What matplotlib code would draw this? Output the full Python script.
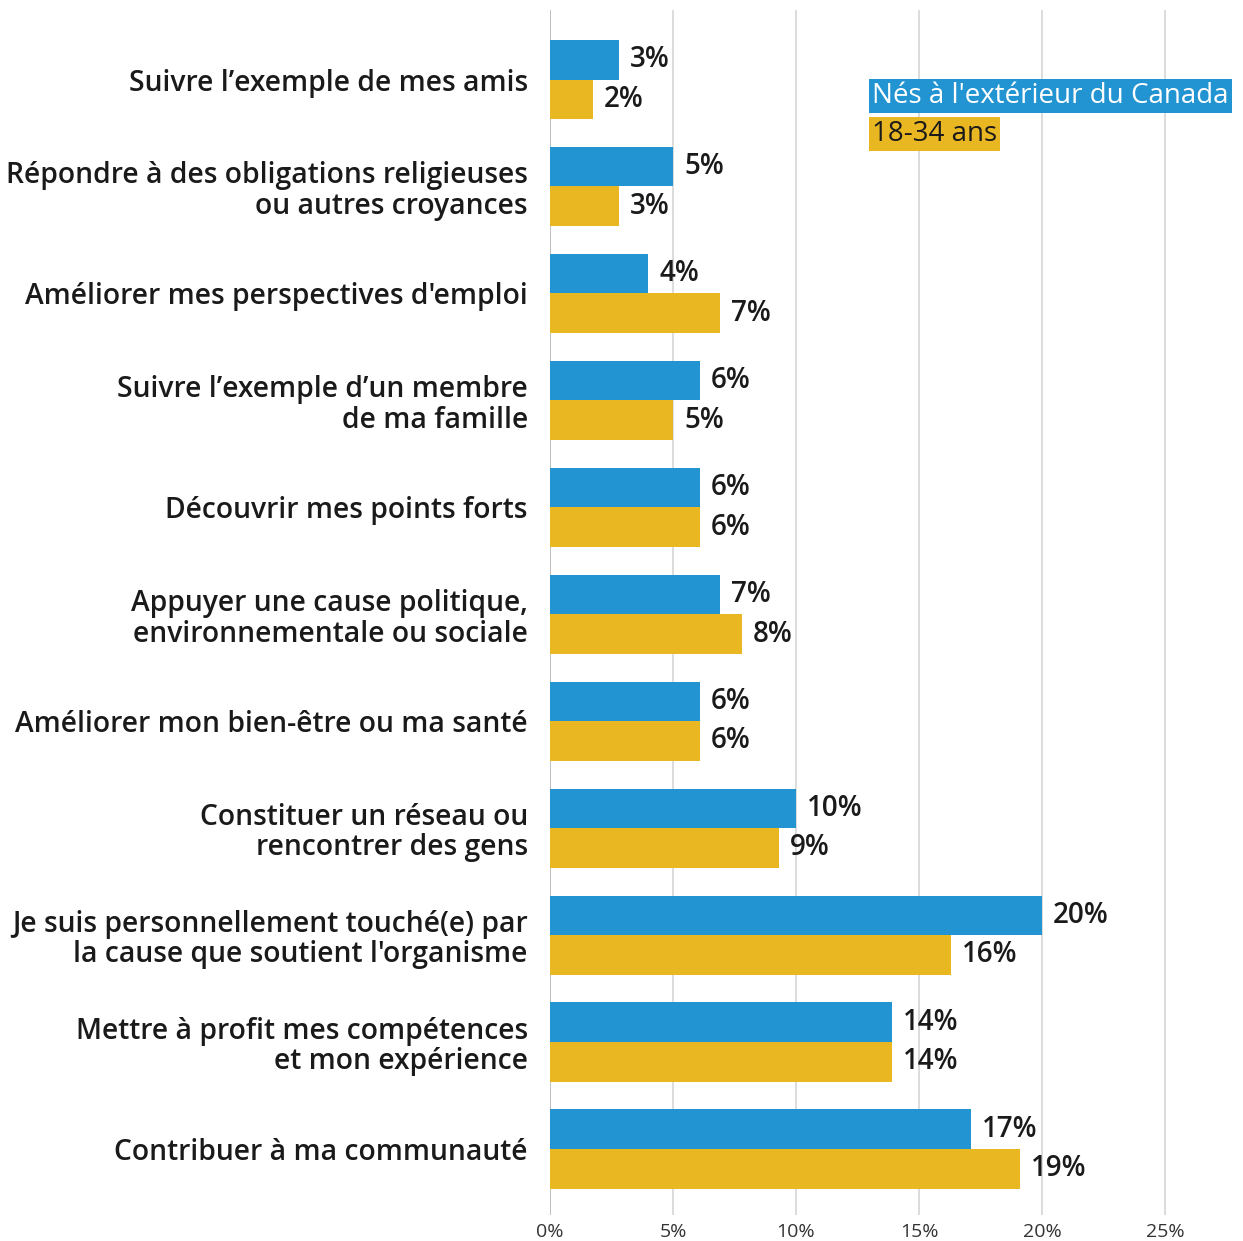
import numpy as np
import matplotlib.pyplot as plt

# categories top to bottom
categories = [
    "Suivre l’exemple de mes amis",
    "Répondre à des obligations religieuses\nou autres croyances",
    "Améliorer mes perspectives d'emploi",
    "Suivre l’exemple d’un membre\nde ma famille",
    "Découvrir mes points forts",
    "Appuyer une cause politique,\nenvironnementale ou sociale",
    "Améliorer mon bien-être ou ma santé",
    "Constituer un réseau ou\nrencontrer des gens",
    "Je suis personnellement touché(e) par\nla cause que soutient l'organisme",
    "Mettre à profit mes compétences\net mon expérience",
    "Contribuer à ma communauté",
]
born_abroad = [2.8, 5.0, 4.0, 6.1, 6.1, 6.9, 6.1, 10.0, 20.0, 13.9, 17.1]
age_18_34 = [1.75, 2.8, 6.9, 5.0, 6.1, 7.8, 6.1, 9.3, 16.3, 13.9, 19.1]
series_names = ["Nés à l'extérieur du Canada", "18-34 ans"]
ticks = [0, 5, 10, 15, 20, 25]

BLUE = "#2394D2"
GOLD = "#E9B722"
INK = "#1a1a1a"
FONT = "Open Sans"

W, H = 1243, 1241
fig = plt.figure(figsize=(W / 100, H / 100), dpi=100)
ax = fig.add_axes([550 / W, (H - 1215) / H, (W - 550) / W, 1205 / H])

y = np.arange(len(categories))
bh = 0.37
ax.barh(y - bh / 2, born_abroad, height=bh, color=BLUE, zorder=3)
ax.barh(y + bh / 2, age_18_34, height=bh, color=GOLD, zorder=3)

for vals, off in [(born_abroad, -bh / 2), (age_18_34, bh / 2)]:
    for yi, v in zip(y, vals):
        ax.annotate(f"{v:.0f}%", (v, yi + off), xytext=(8, 0), textcoords="offset points",
                    va="center", ha="left", fontsize=20, fontweight="semibold",
                    color=INK, family=FONT)

ax.set_xlim(0, (W - 550) / 24.6)
ax.set_ylim(10.617, -0.650)
ax.set_xticks(ticks)
ax.set_xticklabels([f"{t}%" for t in ticks], fontsize=14, color="#333333", family=FONT)
ax.set_yticks(y)
ax.set_yticklabels(categories, fontsize=20.3, fontweight="semibold", color=INK,
                   family=FONT, linespacing=1.08)
ax.tick_params(axis="both", length=0)
ax.tick_params(axis="y", pad=16)
ax.tick_params(axis="x", pad=6)
for s in ax.spines.values():
    s.set_visible(False)
for t in ticks:
    ax.axvline(t, color="#bbbbbb" if t == 0 else "#d9d9d9", lw=1.3, zorder=1)

# legend as colored text boxes
fig.text(872 / W, 1 - 96 / H, series_names[0], color="white", fontsize=20, family=FONT,
         va="center", ha="left",
         bbox=dict(boxstyle="square,pad=0.12", fc=BLUE, ec="none"))
fig.text(872 / W, 1 - 134 / H, series_names[1], color=INK, fontsize=20, family=FONT,
         va="center", ha="left",
         bbox=dict(boxstyle="square,pad=0.12", fc=GOLD, ec="none"))

fig.savefig("out.png", dpi=100)
